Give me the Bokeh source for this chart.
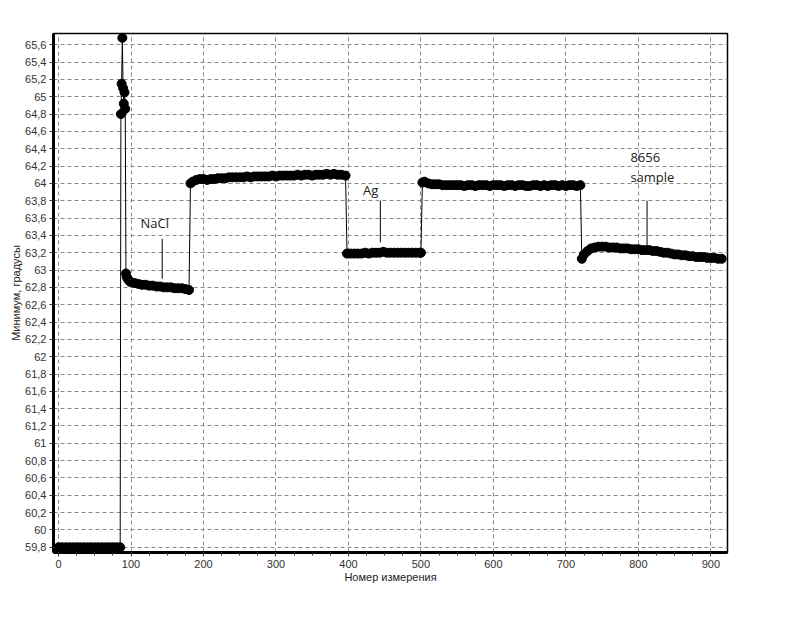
from bokeh.plotting import figure
from bokeh.models import Range1d, FixedTicker, SingleIntervalTicker, ColumnDataSource
from bokeh.core.properties import value
from bokeh.embed import file_html
from bokeh.resources import INLINE

# ---- data (measurement number, minimum in degrees) ----
base_x = [0, 5, 10, 15, 20, 25, 30, 35, 40, 45, 50, 55, 60, 65, 70, 75, 80, 85]
base_y = [59.8] * 18

spike_x = [86, 87, 88, 89, 90, 91, 92]
spike_y = [64.80, 65.15, 65.68, 65.10, 64.92, 65.05, 64.86]

nacl_x = [93, 94, 96, 98, 100, 105, 110, 115, 120, 125, 130, 135, 140, 145,
          150, 155, 160, 165, 170, 175, 180]
nacl_y = [62.96, 62.92, 62.89, 62.87, 62.86, 62.85, 62.84, 62.83, 62.83, 62.82,
          62.82, 62.81, 62.81, 62.80, 62.80, 62.80, 62.79, 62.79, 62.79, 62.78, 62.77]

high1_x = [182, 185, 190, 195, 200, 205, 210, 215, 220, 225, 230, 235, 240, 245,
           250, 255, 260, 265, 270, 275, 280, 285, 290, 295, 300, 305, 310, 315,
           320, 325, 330, 335, 340, 345, 350, 355, 360, 365, 370, 375, 380, 385,
           390, 396]
high1_y = [64.00, 64.02, 64.04, 64.05, 64.05, 64.04, 64.05, 64.05, 64.06, 64.06,
           64.06, 64.07, 64.07, 64.07, 64.07, 64.07, 64.08, 64.07, 64.08, 64.08,
           64.08, 64.08, 64.08, 64.09, 64.08, 64.09, 64.09, 64.09, 64.09, 64.09,
           64.10, 64.09, 64.10, 64.10, 64.09, 64.10, 64.10, 64.10, 64.11, 64.10,
           64.11, 64.10, 64.10, 64.09]

ag_x = [398, 403, 408, 413, 418, 423, 428, 433, 438, 443, 448, 453, 458, 463,
        468, 473, 478, 483, 488, 493, 498, 500]
ag_y = [63.19, 63.19, 63.19, 63.19, 63.19, 63.20, 63.19, 63.20, 63.20, 63.20,
        63.21, 63.20, 63.20, 63.20, 63.20, 63.20, 63.20, 63.20, 63.20, 63.20,
        63.20, 63.20]

high2_x = [502, 505, 510, 515, 520, 525, 530, 535, 540, 545, 550, 555, 560, 565,
           570, 575, 580, 585, 590, 595, 600, 605, 610, 615, 620, 625, 630, 635,
           640, 645, 650, 655, 660, 665, 670, 675, 680, 685, 690, 695, 700, 705,
           710, 715, 720]
high2_y = [64.01, 64.02, 64.00, 63.99, 63.99, 63.99, 63.98, 63.98, 63.98, 63.98,
           63.98, 63.98, 63.97, 63.98, 63.98, 63.97, 63.98, 63.98, 63.98, 63.97,
           63.98, 63.98, 63.98, 63.97, 63.98, 63.98, 63.97, 63.98, 63.98, 63.97,
           63.97, 63.98, 63.98, 63.97, 63.98, 63.97, 63.98, 63.98, 63.97, 63.98,
           63.97, 63.98, 63.98, 63.97, 63.98]

sample_x = [722, 725, 730, 735, 740, 745, 750, 755, 760, 765, 770, 775, 780, 785,
            790, 795, 800, 805, 810, 815, 820, 825, 830, 835, 840, 845, 850, 855,
            860, 865, 870, 875, 880, 885, 890, 895, 900, 905, 910, 915]
sample_y = [63.13, 63.18, 63.22, 63.25, 63.26, 63.27, 63.27, 63.27, 63.26, 63.26,
            63.26, 63.25, 63.25, 63.25, 63.24, 63.24, 63.24, 63.23, 63.23, 63.23,
            63.22, 63.22, 63.21, 63.20, 63.20, 63.19, 63.18, 63.18, 63.17, 63.17,
            63.16, 63.16, 63.15, 63.15, 63.15, 63.14, 63.14, 63.14, 63.13, 63.13]

# annotations: label text, label position, pointer line
note_text = ["NaCl", "Ag", "8656", "sample"]
note_x = [113, 420, 789, 789]
note_y = [63.54, 63.92, 64.30, 64.07]
pointer_x = [143, 444, 812]
pointer_y0 = [63.36, 63.80, 63.80]
pointer_y1 = [62.90, 63.32, 63.28]

y_ticks = [round(59.8 + 0.2 * i, 1) for i in range(30)]
x_label = "Номер измерения"
y_label = "Минимум, градусы"

xs = base_x + spike_x + nacl_x + high1_x + ag_x + high2_x + sample_x
ys = base_y + spike_y + nacl_y + high1_y + ag_y + high2_y + sample_y

p = figure(width=780, height=616, output_backend="svg", toolbar_location=None,
           x_range=Range1d(-7, 923), y_range=Range1d(59.74, 65.73),
           min_border_left=53, min_border_right=53, min_border_top=33,
           min_border_bottom=64)

src = ColumnDataSource(dict(x=xs, y=ys))
p.line("x", "y", source=src, line_color="black", line_width=1)
p.scatter("x", "y", source=src, size=9, fill_color="black", line_color="black")

p.segment(x0=pointer_x, y0=pointer_y0, x1=pointer_x, y1=pointer_y1,
          line_color="black", line_width=1)
p.text(x=note_x, y=note_y, text=note_text, text_font=value("Open Sans"),
       text_font_size="13px", text_color="#222222", text_baseline="middle",
       text_align="left")

# axes
p.xaxis.ticker = SingleIntervalTicker(interval=100, num_minor_ticks=4)
p.yaxis.ticker = FixedTicker(ticks=y_ticks, minor_ticks=[])
p.yaxis.major_label_overrides = {t: (("%g" % t).replace(".", ",")) for t in y_ticks}
p.xaxis.axis_label = x_label
p.yaxis.axis_label = y_label
for ax in (p.xaxis[0], p.yaxis[0]):
    ax.axis_line_width = 3
    ax.axis_line_color = "black"
    ax.major_tick_line_color = "#333333"
    ax.minor_tick_line_color = "#333333"
    ax.major_tick_in = 0
    ax.major_tick_out = 4
    ax.minor_tick_in = 0
    ax.minor_tick_out = 3
    ax.major_label_text_font = "Liberation Sans"
    ax.major_label_text_font_size = "11px"
    ax.major_label_text_color = "#333333"
    ax.axis_label_text_font = "Liberation Sans"
    ax.axis_label_text_font_size = "11px"
    ax.axis_label_text_font_style = "normal"
    ax.axis_label_text_color = "#222222"
    ax.major_label_standoff = 3
    ax.axis_label_standoff = 0

p.grid.grid_line_color = "#8a8a8a"
p.grid.grid_line_dash = "4 3"
p.grid.grid_line_width = 1
p.outline_line_color = "black"
p.outline_line_width = 1.5
p.background_fill_color = "white"
p.border_fill_color = "white"

open("out.html", "w").write(file_html(p, INLINE))
